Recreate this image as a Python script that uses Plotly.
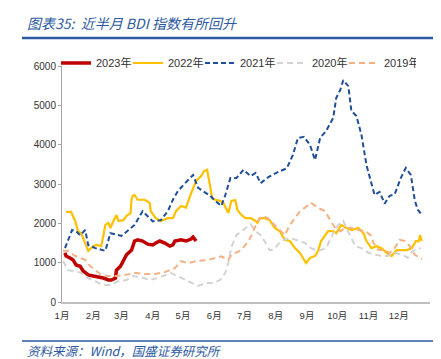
import plotly.graph_objects as go

# x values are day-of-year positions; y values are BDI index readings
month_ticks = [1, 32, 60, 91, 121, 152, 182, 213, 244, 274, 305, 335]
month_labels = ["1月", "2月", "3月", "4月", "5月", "6月", "7月", "8月", "9月", "10月", "11月", "12月"]

d2023 = [4, 5, 9, 12, 15, 19, 22, 27, 32, 37, 42, 47, 50, 54, 55, 59, 62, 65, 70, 73, 76, 81, 86, 91, 94, 98, 103, 108, 111, 113, 119, 124, 129, 131, 134]
v2023 = [1250, 1170, 1120, 1070, 940, 910, 790, 690, 660, 640, 610, 560, 560, 610, 810, 910, 1070, 1200, 1320, 1550, 1580, 1550, 1470, 1450, 1500, 1550, 1500, 1420, 1450, 1550, 1580, 1550, 1600, 1650, 1550]

d2022 = [5, 10, 14, 17, 20, 25, 27, 32, 35, 40, 44, 47, 49, 52, 55, 57, 62, 65, 69, 70, 71, 73, 76, 83, 88, 89, 94, 99, 106, 111, 114, 119, 124, 128, 131, 134, 139, 142, 145, 148, 150, 154, 158, 161, 166, 169, 173, 175, 179, 183, 188, 192, 195, 197, 202, 207, 212, 217, 222, 227, 232, 237, 240, 243, 247, 252, 255, 258, 265, 270, 273, 278, 283, 288, 295, 300, 303, 308, 313, 318, 323, 328, 333, 338, 343, 348, 352, 355, 356, 358]
v2022 = [2290, 2290, 2060, 1800, 1750, 1420, 1300, 1420, 1450, 1420, 1960, 2010, 1880, 2060, 2210, 2060, 2080, 2190, 2260, 2600, 2700, 2720, 2600, 2600, 2520, 2310, 2130, 2060, 2130, 2130, 2310, 2440, 2400, 2690, 2900, 3080, 3200, 3330, 3360, 2950, 2640, 2590, 2570, 2520, 2260, 2570, 2590, 2340, 2210, 2130, 2130, 2080, 2010, 2130, 2130, 2080, 1880, 1800, 1580, 1550, 1370, 1250, 1120, 990, 1120, 1170, 1300, 1550, 1800, 1800, 1750, 1960, 1880, 1830, 1880, 1750, 1550, 1370, 1420, 1370, 1250, 1170, 1320, 1320, 1320, 1370, 1550, 1550, 1700, 1550]

d2021 = [4, 11, 15, 19, 24, 27, 34, 44, 49, 60, 67, 73, 81, 91, 99, 106, 111, 116, 123, 131, 136, 141, 148, 153, 159, 163, 168, 174, 181, 188, 193, 198, 206, 215, 224, 230, 235, 241, 247, 252, 257, 263, 270, 273, 277, 280, 285, 288, 293, 298, 303, 311, 316, 321, 326, 331, 337, 342, 347, 351, 354, 358]
v2021 = [1370, 1830, 1800, 1700, 1830, 1450, 1370, 1300, 1750, 1680, 1830, 1960, 2310, 2050, 2080, 2310, 2600, 2820, 3020, 3230, 2900, 2820, 2700, 2570, 2440, 2720, 3150, 3150, 3360, 3200, 3280, 3020, 3180, 3300, 3400, 3740, 4170, 4200, 3990, 3610, 4170, 4350, 4680, 5190, 5390, 5640, 5490, 4860, 4730, 4250, 3480, 2720, 2800, 2500, 2700, 2740, 3150, 3410, 3230, 2570, 2340, 2210]

d2020 = [2, 7, 12, 20, 27, 34, 42, 49, 57, 65, 71, 78, 88, 96, 104, 109, 113, 126, 136, 143, 151, 158, 163, 166, 169, 174, 181, 188, 193, 198, 203, 207, 211, 218, 227, 235, 242, 248, 255, 263, 270, 275, 280, 283, 288, 292, 298, 305, 312, 318, 324, 331, 339, 344, 349, 357]
v2020 = [1040, 810, 790, 740, 610, 530, 430, 430, 530, 560, 660, 640, 560, 610, 690, 740, 690, 530, 410, 480, 480, 560, 740, 1000, 1400, 1700, 1830, 1980, 1800, 1700, 1500, 1320, 1330, 1550, 1630, 1550, 1500, 1370, 1300, 1370, 1750, 1960, 2060, 1880, 1630, 1420, 1370, 1250, 1200, 1170, 1170, 1250, 1200, 1120, 1300, 1370]

d2019 = [2, 7, 14, 19, 24, 29, 34, 40, 47, 55, 64, 74, 83, 93, 103, 113, 119, 126, 134, 146, 159, 166, 169, 174, 179, 186, 189, 195, 200, 205, 212, 217, 222, 227, 232, 237, 242, 248, 255, 262, 267, 272, 277, 282, 288, 295, 302, 307, 310, 315, 321, 326, 331, 336, 341, 346, 351, 358]
v2019 = [1300, 1300, 1170, 1120, 1070, 910, 810, 690, 660, 660, 690, 740, 710, 710, 760, 860, 1040, 990, 1040, 1070, 1160, 1070, 1200, 1250, 1320, 1550, 1700, 2060, 2190, 2130, 1960, 1830, 1700, 1960, 2130, 2310, 2400, 2520, 2390, 2310, 2080, 1880, 1800, 1880, 1880, 1830, 1800, 1700, 1500, 1320, 1320, 1250, 1370, 1580, 1550, 1420, 1200, 1090]

series = [
    ("2023年", d2023, v2023, "#C00000", 3.5, "solid"),
    ("2022年", d2022, v2022, "#FFC000", 2.2, "solid"),
    ("2021年", d2021, v2021, "#1F4E9A", 2.0, "5px,3px"),
    ("2020年", d2020, v2020, "#D3D3D3", 2.0, "6px,4px"),
    ("2019年", d2019, v2019, "#F4B183", 2.0, "6px,4px"),
]

fig = go.Figure()
for name, xs, ys, color, width, dash in series:
    fig.add_trace(go.Scatter(x=xs, y=ys, name=name, mode="lines",
                             line=dict(color=color, width=width, dash=dash)))

W, H = 441, 359
L, R, T, B = 54, 19, 58, 65
pw, ph = W - L - R, H - T - B

def px(xp):
    return (xp - L) / pw

def py(yp):
    return (H - B - yp) / ph

blue = "#2C5AA0"
fig.update_layout(
    width=W, height=H,
    margin=dict(l=L, r=R, t=T, b=B),
    paper_bgcolor="white", plot_bgcolor="white",
    font=dict(family="Liberation Sans, Noto Sans CJK SC, sans-serif", color="#333333"),
    showlegend=True,
    legend=dict(orientation="h", x=px(48), xanchor="left", y=py(55), yanchor="middle",
                font=dict(size=11, color="#333333"), bgcolor="rgba(0,0,0,0)",
                entrywidth=27, entrywidthmode="pixels", itemwidth=30),
    xaxis=dict(range=[1, 366], tickmode="array", tickvals=month_ticks, ticktext=month_labels,
               showgrid=False, zeroline=False, showline=True, linecolor="#BFBFBF", linewidth=2,
               ticks="outside", ticklen=4, tickcolor="rgba(0,0,0,0)",
               tickfont=dict(size=9.5, color="#333333")),
    yaxis=dict(range=[0, 6000], tickmode="array", tickvals=[0, 1000, 2000, 3000, 4000, 5000, 6000],
               showgrid=False, zeroline=False, showline=True, linecolor="#A6A6A6", linewidth=1,
               ticks="outside", ticklen=3, tickcolor="#A6A6A6",
               tickfont=dict(size=10, color="#333333")),
    shapes=[
        dict(type="line", xref="paper", yref="paper", x0=px(14), x1=px(431), y0=py(30), y1=py(30),
             line=dict(color=blue, width=2.5)),
        dict(type="line", xref="paper", yref="paper", x0=px(14), x1=px(431), y0=py(333), y1=py(333),
             line=dict(color=blue, width=1.5)),
    ],
    annotations=[
        dict(text="图表35:  近半月 BDI 指数有所回升", xref="paper", yref="paper", x=px(17), y=py(15),
             xanchor="left", yanchor="middle", showarrow=False,
             font=dict(family="Noto Sans CJK SC, sans-serif", size=14, color=blue, style="italic")),
        dict(text="资料来源：Wind，国盛证券研究所", xref="paper", yref="paper", x=px(17), y=py(342),
             xanchor="left", yanchor="middle", showarrow=False,
             font=dict(family="Noto Sans CJK SC, sans-serif", size=12.5, color=blue, style="italic")),
    ],
)

fig.write_html("out.html")
